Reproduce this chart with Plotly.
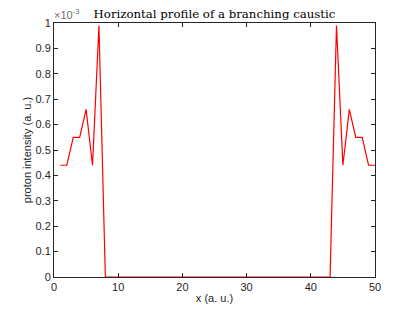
import plotly.graph_objects as go

x_pos = list(range(1, 51))
left_part = [0.44, 0.44, 0.55, 0.55, 0.66, 0.44, 0.99]
right_part = [0.99, 0.44, 0.66, 0.55, 0.55, 0.44, 0.44]
intensity = [v * 1e-3 for v in left_part] + [0.0] * 36 + [v * 1e-3 for v in right_part]

y_tickvals = [i * 1e-4 for i in range(11)]
y_ticktext = ["0", "0.1", "0.2", "0.3", "0.4", "0.5", "0.6", "0.7", "0.8", "0.9", "1"]
x_tickvals = [0, 10, 20, 30, 40, 50]

fig = go.Figure()
fig.add_trace(go.Scatter(x=x_pos, y=intensity, mode="lines",
                         line=dict(color="#ff0000", width=1.2), showlegend=False))

axis_common = dict(showgrid=False, zeroline=False, showline=True, linecolor="#262626",
                   linewidth=1, mirror="ticks", ticks="inside", ticklen=4, automargin=False,
                   tickcolor="#262626", tickfont=dict(family="Liberation Sans, Arial", size=11, color="#262626"))

fig.update_layout(
    width=415, height=312,
    paper_bgcolor="white", plot_bgcolor="white",
    margin=dict(l=46, r=48, t=15, b=43, autoexpand=False),
    title=dict(text="Horizontal profile of a branching caustic", x=0.5, xref="paper", xanchor="center",
               y=0.995, yanchor="top", automargin=False,
               font=dict(family="DejaVu Serif, Liberation Serif, serif", size=11.75, color="black")),
    xaxis=dict(range=[0, 50], tickvals=x_tickvals,
               title=dict(text="x (a. u.)", standoff=2,
                          font=dict(family="Liberation Sans, Arial", size=11, color="#262626")),
               **axis_common),
    yaxis=dict(range=[0, 1e-3], tickvals=y_tickvals, ticktext=y_ticktext,
               title=dict(text="proton intensity (a. u.)", standoff=1,
                          font=dict(family="Liberation Sans, Arial", size=11, color="#262626")),
               **axis_common),
    annotations=[dict(text="×10<sup>-3</sup>", xref="paper", yref="paper", x=-0.005, y=1,
                      xanchor="left", yanchor="bottom", showarrow=False,
                      font=dict(family="Liberation Sans, Arial", size=11, color="#6e6e6e"))],
)

fig.write_html("out.html")
